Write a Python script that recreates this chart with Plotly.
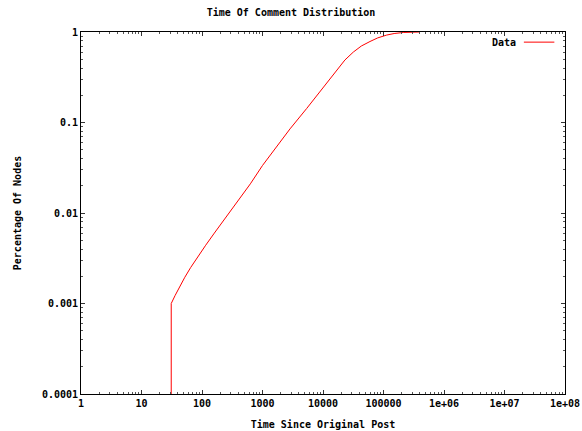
import plotly.graph_objects as go

# Data (time since post, cumulative fraction of nodes)
time_vals = [31, 31, 36, 42, 52, 65, 85, 115, 160, 230, 320, 450, 630, 1000, 1500,
             2850, 5380, 7400, 10100, 13000, 16800, 23000, 31700, 43000, 59800, 80000,
             113000, 150000, 212000, 300000, 400000]
frac_vals = [0.0001, 0.001, 0.00123, 0.0015, 0.00195, 0.0025, 0.0033, 0.0044, 0.006,
             0.0083, 0.0112, 0.0152, 0.021, 0.0335, 0.048, 0.085, 0.143, 0.188, 0.244,
             0.305, 0.38, 0.49, 0.60, 0.70, 0.785, 0.86, 0.925, 0.962, 0.988, 0.998, 1.0]

x_ticks = [1, 10, 100, 1000, 10000, 100000, 1e6, 1e7, 1e8]
x_labels = ["1", "10", "100", "1000", "10000", "100000", "1e+06", "1e+07", "1e+08"]
y_ticks = [0.0001, 0.001, 0.01, 0.1, 1]
y_labels = ["0.0001", "0.001", "0.01", "0.1", "1"]

FONT = "DejaVu Sans Mono"

fig = go.Figure()
fig.add_trace(go.Scatter(x=time_vals, y=frac_vals, mode="lines", name="Data",
                         line=dict(color="#ff0000", width=1), showlegend=False))

axis_common = dict(
    showgrid=False, zeroline=False, showline=True, linecolor="black", linewidth=1,
    mirror="ticks", ticks="inside", ticklen=4, tickcolor="#333333", tickwidth=1,
    automargin=False,
    tickfont=dict(family=FONT, size=10, color="black", weight="bold"),
    minor=dict(ticks="inside", ticklen=2, tickcolor="#555555", dtick="D1"),
)

fig.update_xaxes(type="log", range=[0, 8], tickvals=x_ticks, ticktext=x_labels,
                 title=dict(text="Time Since Original Post", standoff=12,
                            font=dict(family=FONT, size=10, color="black", weight="bold")),
                 **axis_common)
fig.update_yaxes(type="log", range=[-4, 0], tickvals=y_ticks, ticktext=y_labels,
                 title=dict(text="Percentage Of Nodes", standoff=18,
                            font=dict(family=FONT, size=10, color="black", weight="bold")),
                 **axis_common)

# gnuplot-style key: label left of the sample line
fig.add_annotation(xref="paper", yref="paper", x=0.902, y=0.972, text="Data",
                   showarrow=False, xanchor="right", yanchor="middle",
                   font=dict(family=FONT, size=10, color="black", weight="bold"))
fig.add_shape(type="line", xref="paper", yref="paper", x0=0.915, x1=0.978,
              y0=0.972, y1=0.972, line=dict(color="#ff0000", width=1))

fig.update_layout(
    width=582, height=431,
    margin=dict(l=81, r=17, t=32, b=37),
    paper_bgcolor="white", plot_bgcolor="white",
    title=dict(text="Time Of Comment Distribution", x=0.5, xanchor="center",
               y=0.97, yanchor="middle",
               font=dict(family=FONT, size=10, color="black", weight="bold")),
)

fig.write_html("out.html", config={"displayModeBar": False},
               post_script="document.body.style.margin='0';document.body.style.overflow='hidden';")
